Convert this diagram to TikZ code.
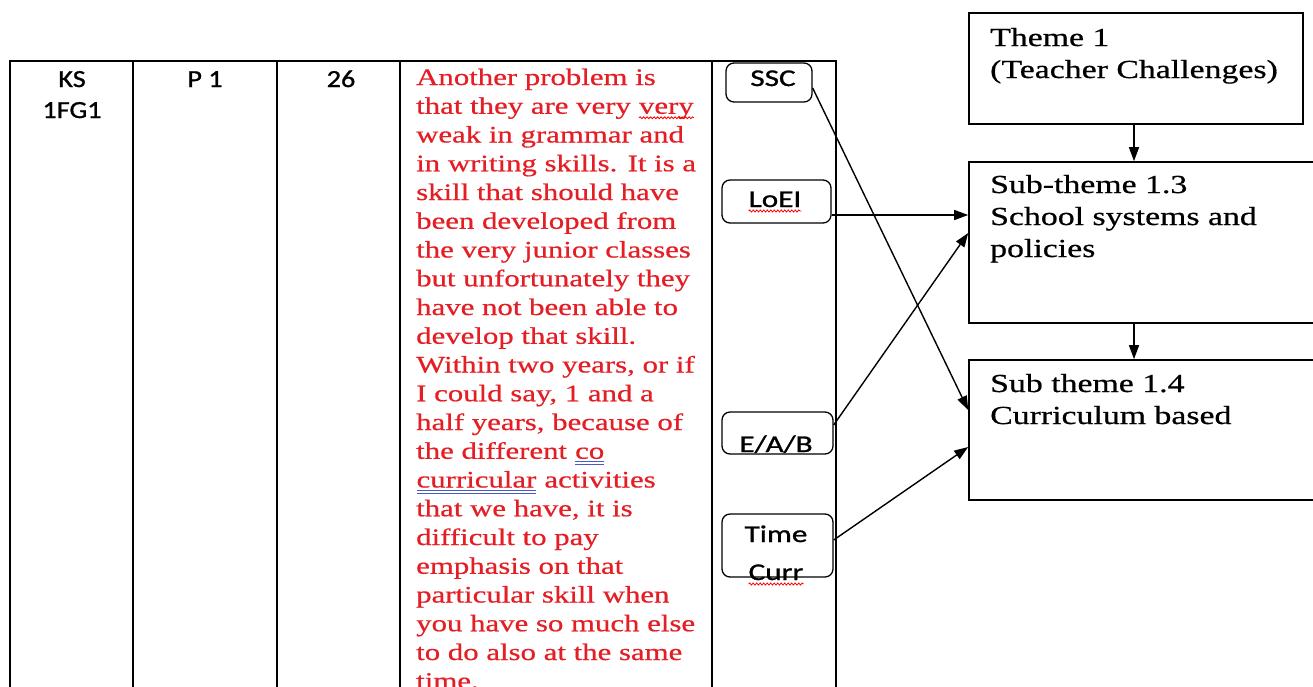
\documentclass[tikz,border=0pt]{standalone}
\usepackage{fontspec}
\usetikzlibrary{arrows.meta,calc,decorations.pathmorphing}

% Fonts: wide Times-like serif for the transcript and themes, Calibri-like sans for codes
\newfontfamily\bodyserif[FakeStretch=1.3,FakeBold=0.6]{Liberation Serif}
\newfontfamily\tagsans[FakeStretch=1.3,FakeBold=1.1]{Carlito}
\newfontfamily\headsans[FakeStretch=1.15,FakeBold=1.1]{Carlito}

\definecolor{quotered}{RGB}{228,30,36}
\definecolor{spellblue}{RGB}{70,90,200}

% spell-check style marks under a word
\newcommand\wavemark[1]{\tikz[baseline=(w.base),x=1pt,y=1pt]{%
  \node[inner sep=0,outer sep=0,anchor=base] (w) {#1};
  \draw[red,line width=0.8pt,decorate,decoration={snake,amplitude=1pt,segment length=3.5pt}]
    ([yshift=-4pt]w.base west) -- ([yshift=-4pt]w.base east);}}
\newcommand\dblmark[1]{\tikz[baseline=(w.base),x=1pt,y=1pt]{%
  \node[inner sep=0,outer sep=0,anchor=base] (w) {#1};
  \draw[spellblue,line width=0.8pt] ([yshift=-3pt]w.base west) -- ([yshift=-3pt]w.base east);
  \draw[spellblue,line width=0.8pt] ([yshift=-5.5pt]w.base west) -- ([yshift=-5.5pt]w.base east);}}

\begin{document}
\begin{tikzpicture}[x=1pt,y=-1pt,
  grid/.style={line width=1.3pt,black},
  headtxt/.style={anchor=base,inner sep=0,font=\headsans\fontsize{24.5}{28}\selectfont},
  quoteline/.style={anchor=base west,inner sep=0,text=quotered,font=\bodyserif\fontsize{23.7}{28}\selectfont},
  tagbox/.style={draw,rounded corners=8pt,line width=1.3pt,inner sep=0},
  tagtxt/.style={anchor=base,inner sep=0,font=\tagsans\fontsize{24}{28}\selectfont},
  themebox/.style={draw,line width=1.6pt,inner sep=0},
  themetxt/.style={anchor=base west,inner sep=0,font=\bodyserif\fontsize{26}{32}\selectfont},
  link/.style={line width=1.4pt,-{Triangle[length=14pt,width=10pt]}}
]
\useasboundingbox (0,0) rectangle (1313,686);
\clip (0,0) rectangle (1313,686);
\fill[white] (0,0) rectangle (1313,686);

% table grid
\draw[grid] (10,700) -- (10,61) -- (836,61) -- (836,700);
\foreach \cx in {133,277,400,712} \draw[grid] (\cx,61) -- (\cx,700);

% header cells
\node[headtxt] (ks) at (72,87) {KS};
\node[headtxt] (fg) at (72,118) {1FG1};
\node[headtxt] (pone) at (205,87) {P 1};
\node[headtxt] (nsix) at (341,87) {26};

% transcript
\node[quoteline] (q1)  at (416,85)     {Another problem is};
\node[quoteline] (q2)  at (416,113.75) {that they are very \wavemark{very}};
\node[quoteline] (q3)  at (416,142.5)  {weak in grammar and};
\node[quoteline] (q4)  at (416,171.25) {in writing skills. It is a};
\node[quoteline] (q5)  at (416,200)    {skill that should have};
\node[quoteline] (q6)  at (416,228.75) {been developed from};
\node[quoteline] (q7)  at (416,257.5)  {the very junior classes};
\node[quoteline] (q8)  at (416,286.25) {but unfortunately they};
\node[quoteline] (q9)  at (416,315)    {have not been able to};
\node[quoteline] (q10) at (416,343.75) {develop that skill.};
\node[quoteline] (q11) at (416,372.5)  {Within two years, or if};
\node[quoteline] (q12) at (416,401.25) {I could say, 1 and a};
\node[quoteline] (q13) at (416,430)    {half years, because of};
\node[quoteline] (q14) at (416,458.75) {the different \dblmark{co\hspace{4pt}}};
\node[quoteline] (q15) at (416,487.5)  {\dblmark{curricular} activities};
\node[quoteline] (q16) at (416,516.25) {that we have, it is};
\node[quoteline] (q17) at (416,545)    {difficult to pay};
\node[quoteline] (q18) at (416,573.75) {emphasis on that};
\node[quoteline] (q19) at (416,602.5)  {particular skill when};
\node[quoteline] (q20) at (416,631.25) {you have so much else};
\node[quoteline] (q21) at (416,660)    {to do also at the same};
\node[quoteline] (q22) at (416,688.75) {time.};

% code boxes
\node[tagbox,minimum width=86pt,minimum height=39pt] (ssc) at (769,82.5) {};
\node[tagbox,minimum width=109pt,minimum height=43pt] (loei) at (776.5,201.5) {};
\node[tagbox,minimum width=111pt,minimum height=42pt] (eab) at (777.5,433) {};
\node[tagbox,minimum width=111pt,minimum height=63pt] (tc) at (777.5,545.5) {};
\node[tagtxt] (ssct) at (773,86) {SSC};
\node[tagtxt] (loeit) at (775,207) {\wavemark{LoEI}};
\node[tagtxt] (eabt) at (776,452) {E/A/B};
\node[tagtxt] (tct) at (776,542) {Time};
\node[tagtxt] (tcc) at (776,580) {\wavemark{Curr}};

% theme boxes
\node[themebox,minimum width=334pt,minimum height=111pt] (th1) at (1136,68.5) {};
\node[themebox,minimum width=370pt,minimum height=161pt] (sub13) at (1154,242.5) {};
\node[themebox,minimum width=370pt,minimum height=140pt] (sub14) at (1154,430) {};
\node[themetxt] (th1a) at (990,46) {Theme 1};
\node[themetxt] (th1b) at (990,78) {(Teacher Challenges)};
\node[themetxt] (s13a) at (990,193) {Sub-theme 1.3};
\node[themetxt] (s13b) at (990,225) {School systems and};
\node[themetxt] (s13c) at (990,257) {policies};
\node[themetxt] (s14a) at (990,392) {Sub theme 1.4};
\node[themetxt] (s14b) at (990,424) {Curriculum based};

% hierarchy arrows
\draw[link] ($(th1.south)+(-2,0)$) -- ($(th1.south |- sub13.north)+(-2,0)$);
\draw[link] ($(th1.south |- sub13.south)+(-2,0)$) -- ($(th1.south |- sub14.north)+(-2,0)$);

% code-to-theme links
\draw[link] ($(ssc.east)+(0,5.5)$) -- ($(sub14.west)+(0,-20)$);
\draw[link] ($(loei.east)+(0,13.5)$) -- ($(sub13.west)+(0,-27.5)$);
\draw[link] ($(eab.east)+(0,-8)$) -- ($(sub13.west)+(0,-9.5)$);
\draw[link] ($(tc.east)+(0,-5.5)$) -- ($(sub14.west)+(0,17)$);
\end{tikzpicture}
\end{document}
